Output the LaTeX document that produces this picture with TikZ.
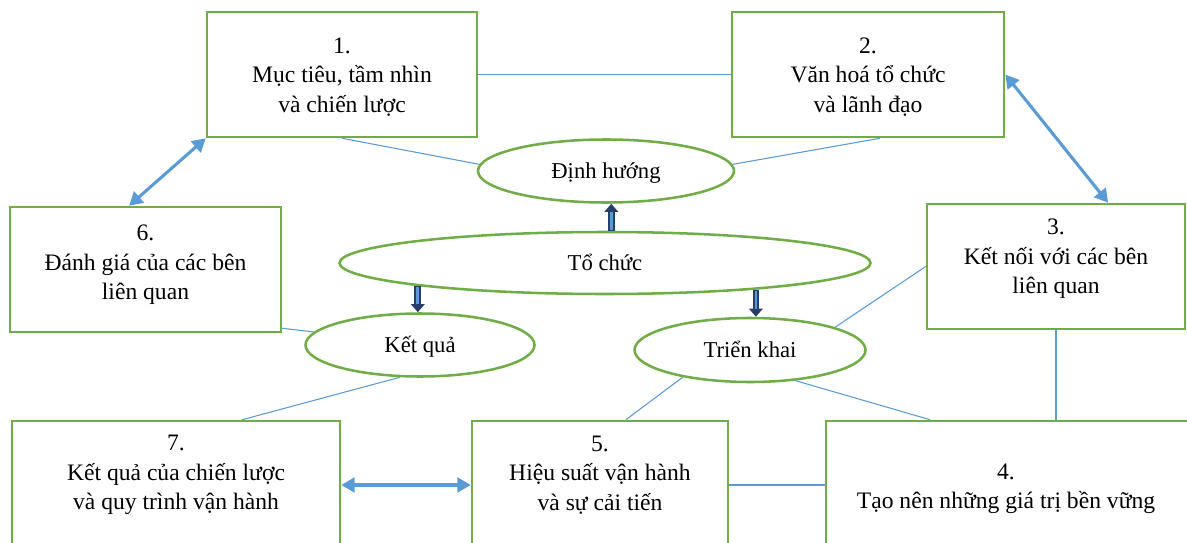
\documentclass[tikz,border=0pt]{standalone}
\usepackage{fontspec}
\setmainfont{Liberation Serif}
\usetikzlibrary{arrows.meta,shapes.geometric,calc}
\definecolor{boxgreen}{RGB}{112,173,71}
\definecolor{linkblue}{RGB}{91,155,213}
\definecolor{navy}{RGB}{38,62,108}
\tikzset{
  box/.style 2 args={draw=boxgreen, line width=1.9pt, rectangle, inner sep=0pt,
    minimum width=#1*0.75pt, minimum height=#2*0.75pt},
  oval/.style 2 args={draw=boxgreen, line width=1.9pt, ellipse, inner sep=0pt,
    minimum width=#1*0.75pt, minimum height=#2*0.75pt, text height=12pt, text depth=1pt,
    font=\fontsize{17}{20}\selectfont},
  boxtext/.style={align=center, font=\fontsize{17.7}{22}\selectfont},
  thinlink/.style={draw=linkblue, line width=0.8pt},
  biarrow/.style={draw=linkblue, line width=2.3pt,
    {Triangle[length=10pt,width=11pt]}-{Triangle[length=10pt,width=11pt]}},
  blockarrow/.style={draw=navy, line width=5pt, -{Triangle[length=6pt,width=10pt]},
    postaction={draw=linkblue, line width=2pt, -, shorten >=6pt, shorten <=0.8pt}},
}

\begin{document}
\begin{tikzpicture}[x=0.75pt, y=-0.75pt]
    \useasboundingbox (0,0) rectangle (1187,542);
    \clip (0,0) rectangle (1187,542);
    % boxes
    \node[box={270}{125}] (k1) at (342,74.5) {};
    \node[box={272}{125}] (k2) at (868,74.5) {};
    \node[box={258}{125}] (k3) at (1056,266.5) {};
    \node[box={374}{128}] (k4) at (1013,485) {};
    \node[box={256}{128}] (k5) at (600,485) {};
    \node[box={271}{125}] (k6) at (145.5,269.5) {};
    \node[box={328}{128}] (k7) at (176,485) {};
    \node[boxtext] (t1) at (342,77) {1.\\Mục tiêu, tầm nhìn\\và chiến lược};
    \node[boxtext] (t2) at (868,77) {2.\\Văn hoá tổ chức\\và lãnh đạo};
    \node[boxtext] (t3) at (1056,259) {3.\\Kết nối với các bên\\liên quan};
    \node[boxtext] (t4) at (1006,488.5) {4.\\Tạo nên những giá trị bền vững};
    \node[boxtext] (t5) at (600,475) {5.\\Hiệu suất vận hành\\và sự cải tiến};
    \node[boxtext] (t6) at (145.5,265) {6.\\Đánh giá của các bên\\liên quan};
    \node[boxtext] (t7) at (176,475) {7.\\Kết quả của chiến lược\\và quy trình vận hành};
    % ovals
    \node[oval={256}{63}] (dh) at (606,171) {Định hướng};
    \node[oval={531}{62}] (tc) at (605,263) {Tổ chức};
    \node[oval={229}{63}] (kq) at (420,345) {Kết quả};
    \node[oval={231}{64}] (tk) at (750,350) {Triển khai};
    % thin links
    \draw[thinlink] (k1.east) -- (k2.west);
    \draw[thinlink] (k1.south) -- (dh.177);
    \draw[thinlink] ($(k2.south)+(12,0)$) -- (dh.3);
    \draw[thinlink] (k3.west) -- (tk.15.5);
    \draw[thinlink] (k3.south) -- (k3.south |- k4.north);
    \draw[thinlink] ($(k6.south east)+(0,-5)$) -- (kq.173.6);
    \draw[thinlink] ($(k6.south)+(-11,0)$) -- ($(k6.south)+(-11,0)$ |- k7.north);
    \draw[thinlink] (kq.238) -- ($(k7.north west)!0.7!(k7.north east)$);
    \draw[thinlink] (tk.202) -- ($(k5.north west)!0.6!(k5.north east)$);
    \draw[thinlink] (tk.326.8) -- ($(k4.north west)!0.28!(k4.north east)$);
    \draw[thinlink] (k5.east) -- (k4.west);
    % two-way arrows
    \draw[biarrow] (k1.south west) -- ($(k6.north west)!0.44!(k6.north east)$);
    \draw[biarrow] (k2.east) -- ($(k3.north west)!0.7!(k3.north east)$);
    \draw[biarrow] (k7.east) -- (k5.west);
    % block arrows
    \draw[blockarrow] (tc.79) -- (tc.79 |- dh.south);
    \draw[blockarrow] (tc.187.3) -- (tc.187.3 |- kq.north);
    \draw[blockarrow] (tc.350.4) -- (tc.350.4 |- tk.north);
\end{tikzpicture}
\end{document}
